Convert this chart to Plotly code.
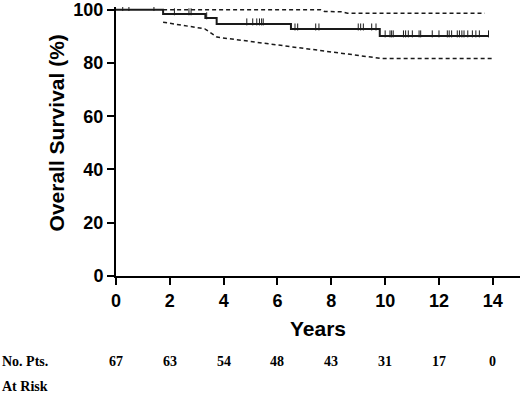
import plotly.graph_objects as go

# Kaplan-Meier estimate (step function): event times and survival after each step
km_times = [0, 1.75, 3.32, 3.74, 6.5, 9.8, 13.84]
km_surv = [100, 98.4, 96.9, 94.6, 92.7, 90.1, 90.1]

# censoring marks (years)
cens_t = [0.25, 0.48, 1.41,
          2.17, 2.71, 2.79,
          3.37,
          4.86, 5.08, 5.23, 5.33, 5.41, 5.47,
          6.65, 6.75, 7.42, 7.54, 9.0, 9.09, 9.19, 9.50, 9.66,
          10.0, 10.18, 10.24, 10.30, 10.68, 10.76, 10.86, 11.01, 11.26, 11.32,
          11.75, 12.0, 12.31, 12.38, 12.47, 12.68, 12.76, 12.85, 12.93, 13.07,
          13.24, 13.37, 13.50, 13.84]

# 95% confidence band
upper_t = [1.75, 7.6, 7.75, 8.4, 8.6, 13.7]
upper_v = [100, 100, 99.3, 99.2, 98.7, 98.7]
lower_t = [1.75, 3.3, 3.75, 5.35, 9.85, 14.0]
lower_v = [95.3, 92.8, 89.7, 87.6, 81.7, 81.7]

x_ticks = [0, 2, 4, 6, 8, 10, 12, 14]
at_risk = [67, 63, 54, 48, 43, 31, 17, 0]


def km_level(t):
    level = km_surv[0]
    for tt, s in zip(km_times, km_surv):
        if t >= tt:
            level = s
    return level


cens_v = [km_level(t) + 0.8 for t in cens_t]

ink = "#1a1a1a"
fig = go.Figure()
fig.add_trace(go.Scatter(x=upper_t, y=upper_v, mode="lines",
                         line=dict(color=ink, width=1.5, dash="4px,3px"),
                         hoverinfo="skip"))
fig.add_trace(go.Scatter(x=lower_t, y=lower_v, mode="lines",
                         line=dict(color=ink, width=1.5, dash="4px,3px"),
                         hoverinfo="skip"))
fig.add_trace(go.Scatter(x=km_times, y=km_surv, mode="lines",
                         line=dict(color=ink, width=2, shape="hv")))
fig.add_trace(go.Scatter(x=cens_t, y=cens_v, mode="markers",
                         marker=dict(symbol="line-ns", size=5,
                                     line=dict(color=ink, width=1))))

tickfont = dict(family="Liberation Sans, Arial", size=18, color="black", weight="bold")
titlefont = dict(family="Liberation Sans, Arial", size=21, color="black", weight="bold")

fig.update_layout(
    width=520, height=393,
    margin=dict(l=116, r=0, t=4, b=116.5),
    paper_bgcolor="white", plot_bgcolor="white",
    showlegend=False,
    xaxis=dict(range=[0, 15.01], tickvals=x_ticks, ticktext=[str(v) for v in x_ticks],
               showgrid=False, zeroline=False, showline=True, linecolor="black",
               linewidth=2, ticks="outside", ticklen=7, tickwidth=2, tickcolor="black",
               tickfont=tickfont, ticklabeloverflow="allow",
               title=dict(text="Years", font=titlefont, standoff=12)),
    yaxis=dict(range=[0, 101], tickvals=[0, 20, 40, 60, 80, 100],
               showgrid=False, zeroline=False, showline=True, linecolor="black",
               linewidth=2, ticks="outside", ticklen=7, tickwidth=2, tickcolor="black",
               tickfont=tickfont, ticklabeloverflow="allow"),
)

riskfont = dict(family="Liberation Serif, Times New Roman", size=14, color="black", weight="bold")
for xv, n in zip(x_ticks, at_risk):
    fig.add_annotation(x=xv, y=0, xref="x", yref="paper", text=str(n), showarrow=False,
                       xanchor="center", yanchor="middle", yshift=-85, font=riskfont)
fig.add_annotation(x=0, y=0, xref="paper", yref="paper", text="No. Pts.", showarrow=False,
                   xanchor="left", yanchor="middle", xshift=-116, yshift=-85, font=riskfont)
fig.add_annotation(x=0, y=0, xref="paper", yref="paper", text="At Risk", showarrow=False,
                   xanchor="left", yanchor="middle", xshift=-116, yshift=-110, font=riskfont)
# y-axis title
fig.add_annotation(x=0, y=0.53, xref="paper", yref="paper", text="Overall Survival (%)",
                   showarrow=False, textangle=-90, xanchor="center", yanchor="middle",
                   xshift=-60, font=titlefont)

fig.write_html("out.html")
